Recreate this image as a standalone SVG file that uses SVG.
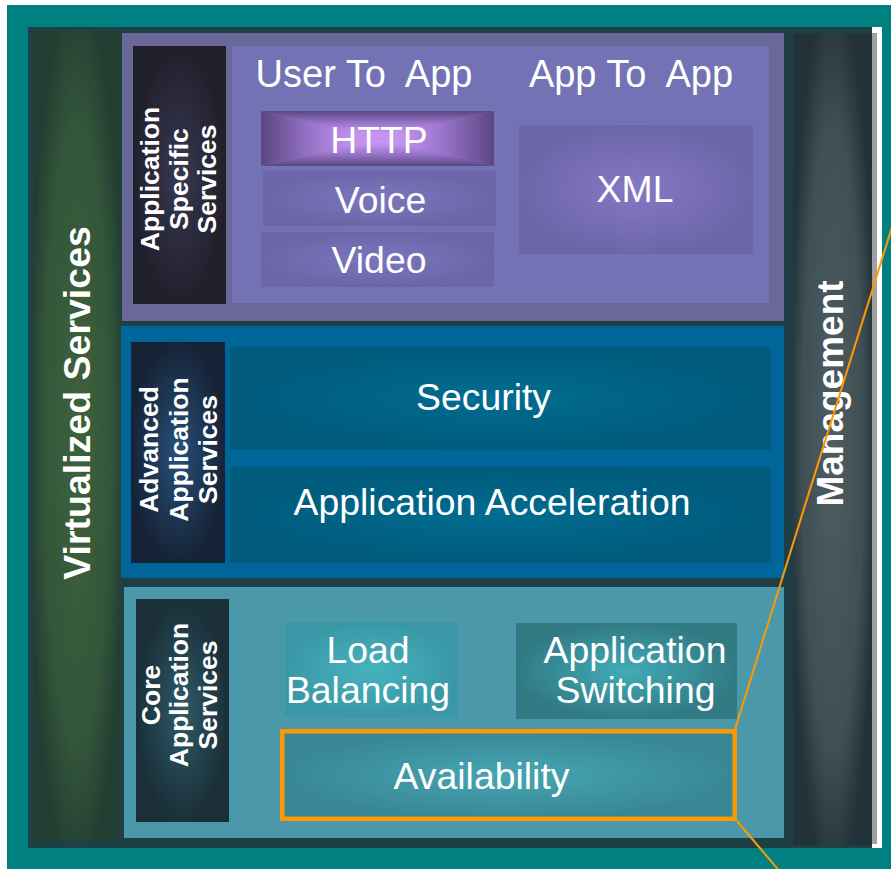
<svg xmlns="http://www.w3.org/2000/svg" width="891" height="869" viewBox="0 0 891 869">
<defs>
  <radialGradient id="gGreen" cx="0.5" cy="0.5" r="0.55">
    <stop offset="0" stop-color="#3e623a"/><stop offset="0.7" stop-color="#33553a"/><stop offset="1" stop-color="#223e32"/>
  </radialGradient>
  <radialGradient id="gMgmt" cx="0.5" cy="0.5" r="0.55">
    <stop offset="0" stop-color="#4d5d61"/><stop offset="0.7" stop-color="#3f4f54"/><stop offset="1" stop-color="#233238"/>
  </radialGradient>
  <radialGradient id="gLblPurple" cx="0.5" cy="0.5" r="0.5">
    <stop offset="0" stop-color="#383852"/><stop offset="1" stop-color="#20202c"/>
  </radialGradient>
  <radialGradient id="gLblBlue" cx="0.5" cy="0.5" r="0.5">
    <stop offset="0" stop-color="#27507a"/><stop offset="1" stop-color="#162337"/>
  </radialGradient>
  <radialGradient id="gLblTeal" cx="0.5" cy="0.5" r="0.5">
    <stop offset="0" stop-color="#2e5a68"/><stop offset="1" stop-color="#1a2f38"/>
  </radialGradient>
  <linearGradient id="hL" gradientUnits="userSpaceOnUse" x1="261" y1="0" x2="377.5" y2="0">
    <stop offset="0" stop-color="#5a4680"/><stop offset="0.45" stop-color="#9a76cc"/><stop offset="0.8" stop-color="#c592f0"/><stop offset="1" stop-color="#c896f4"/>
  </linearGradient>
  <linearGradient id="hR" gradientUnits="userSpaceOnUse" x1="494" y1="0" x2="377.5" y2="0">
    <stop offset="0" stop-color="#5a4680"/><stop offset="0.45" stop-color="#9a76cc"/><stop offset="0.8" stop-color="#c592f0"/><stop offset="1" stop-color="#c896f4"/>
  </linearGradient>
  <linearGradient id="hT" gradientUnits="userSpaceOnUse" x1="0" y1="111" x2="0" y2="138.5">
    <stop offset="0" stop-color="#5a4680"/><stop offset="0.45" stop-color="#9a76cc"/><stop offset="0.8" stop-color="#c592f0"/><stop offset="1" stop-color="#c896f4"/>
  </linearGradient>
  <linearGradient id="hB" gradientUnits="userSpaceOnUse" x1="0" y1="166" x2="0" y2="138.5">
    <stop offset="0" stop-color="#5a4680"/><stop offset="0.45" stop-color="#9a76cc"/><stop offset="0.8" stop-color="#c592f0"/><stop offset="1" stop-color="#c896f4"/>
  </linearGradient>
  <radialGradient id="gVoice" cx="0.5" cy="0.5" r="0.5">
    <stop offset="0" stop-color="#7c75bd"/><stop offset="1" stop-color="#6c66a8"/>
  </radialGradient>
  <radialGradient id="gXml" cx="0.5" cy="0.5" r="0.5">
    <stop offset="0" stop-color="#8677c6"/><stop offset="1" stop-color="#6c66a8"/>
  </radialGradient>
  <radialGradient id="gBlueBox" cx="0.5" cy="0.5" r="0.5">
    <stop offset="0" stop-color="#006d90"/><stop offset="1" stop-color="#005a7c"/>
  </radialGradient>
  <radialGradient id="gLoad" cx="0.5" cy="0.5" r="0.5">
    <stop offset="0" stop-color="#46b2be"/><stop offset="1" stop-color="#3a98a6"/>
  </radialGradient>
  <radialGradient id="gSwitch" cx="0.5" cy="0.5" r="0.5">
    <stop offset="0" stop-color="#41acb8"/><stop offset="1" stop-color="#317a84"/>
  </radialGradient>
  <radialGradient id="gAvail" cx="0.5" cy="0.5" r="0.5">
    <stop offset="0" stop-color="#46a6b4"/><stop offset="1" stop-color="#398794"/>
  </radialGradient>
</defs>
<style>
  text { font-family: "Liberation Sans", Arial, sans-serif; fill: #ffffff; text-anchor: middle; }
  .lbl { font-weight: bold; font-size: 26.5px; }
  .big { font-weight: bold; }
  .r36 { font-size: 37.4px; }
  .hdr { font-size: 38px; }
  .conn { stroke: #ff9900; stroke-width: 2; fill: none; }
</style>

<rect x="0" y="0" width="891" height="869" fill="#ffffff"/>
<rect x="7" y="5" width="884" height="864" fill="#008080"/>
<rect x="28" y="27" width="844" height="821" fill="#1f3f47"/>
<rect x="872" y="27" width="10" height="821" fill="#ffffff"/>
<rect x="872" y="33" width="5" height="811" fill="#a0a0a0"/>

<g id="virtualized-services">
  <rect x="33" y="30" width="88" height="811" fill="url(#gGreen)"/>
  <text class="big" font-size="37.5" transform="translate(90,403) rotate(-90)">Virtualized Services</text>
</g>

<g id="management">
  <rect x="793" y="34" width="79" height="811" fill="url(#gMgmt)"/>
  <text class="big" font-size="37" transform="translate(843,393.5) rotate(-90)">Management</text>
</g>

<g id="application-specific-services">
  <rect x="122" y="33" width="662" height="288" fill="#6a6899"/>
  <rect x="232" y="46" width="537" height="257" fill="#7272b5"/>
  <rect x="133" y="46" width="93" height="258" fill="url(#gLblPurple)"/>
  <text class="lbl" transform="translate(159,179) rotate(-90)"><tspan x="0" y="0">Application</tspan><tspan x="0" dy="28.5">Specific</tspan><tspan x="0" dy="28.5">Services</tspan></text>
  <text class="hdr" x="364" y="87" xml:space="preserve">User To  App</text>
  <text class="hdr" x="631" y="87" xml:space="preserve">App To  App</text>
</g>

<g id="http">
  <rect x="261" y="111" width="233" height="55" fill="#9a76cc"/>
  <polygon points="261,111 377.5,138.5 261,166" fill="url(#hL)"/>
  <polygon points="494,111 377.5,138.5 494,166" fill="url(#hR)"/>
  <polygon points="261,111 494,111 377.5,138.5" fill="url(#hT)"/>
  <polygon points="261,166 494,166 377.5,138.5" fill="url(#hB)"/>
  <text class="r36" x="379" y="153">HTTP</text>
</g>
<g id="voice">
  <rect x="263" y="171" width="233" height="55" fill="url(#gVoice)"/>
  <text class="r36" x="380.5" y="213">Voice</text>
</g>
<g id="video">
  <rect x="261" y="232" width="233" height="55" fill="url(#gVoice)"/>
  <text class="r36" x="379" y="273">Video</text>
</g>
<g id="xml">
  <rect x="519" y="125" width="234" height="129" fill="url(#gXml)"/>
  <text class="r36" x="635" y="202">XML</text>
</g>

<g id="advanced-application-services">
  <rect x="121" y="326" width="663" height="252" fill="#006699"/>
  <rect x="131" y="342" width="94" height="221" fill="url(#gLblBlue)"/>
  <text class="lbl" transform="translate(158,449.5) rotate(-90)"><tspan x="0" y="0">Advanced</tspan><tspan x="0" dy="29.5">Application</tspan><tspan x="0" dy="29">Services</tspan></text>
</g>
<g id="security">
  <rect x="230" y="347" width="541" height="103" fill="url(#gBlueBox)"/>
  <text class="r36" x="483.5" y="410">Security</text>
</g>
<g id="application-acceleration">
  <rect x="230" y="467" width="541" height="96" fill="url(#gBlueBox)"/>
  <text class="r36" x="492" y="515">Application Acceleration</text>
</g>

<g id="core-application-services">
  <rect x="124" y="587" width="660" height="251" fill="#4a98aa"/>
  <rect x="136" y="599" width="93" height="223" fill="url(#gLblTeal)"/>
  <text class="lbl" transform="translate(160,695) rotate(-90)"><tspan x="0" y="0">Core</tspan><tspan x="0" dy="28">Application</tspan><tspan x="0" dy="28.5">Services</tspan></text>
</g>
<g id="load-balancing">
  <rect x="285" y="622" width="173" height="95" fill="url(#gLoad)"/>
  <text class="r36" x="368" y="663">Load</text>
  <text class="r36" x="368" y="703">Balancing</text>
</g>
<g id="application-switching">
  <rect x="516" y="623" width="221" height="96" fill="url(#gSwitch)"/>
  <text class="r36" x="635" y="663">Application</text>
  <text class="r36" x="635.5" y="703">Switching</text>
</g>
<g id="availability">
  <rect x="282.3" y="731.3" width="452.4" height="87.5" fill="url(#gAvail)" stroke="#ff9900" stroke-width="4.5"/>
  <text class="r36" x="481.5" y="789">Availability</text>
</g>

<g id="connectors">
  <line class="conn" x1="734.5" y1="731" x2="892" y2="227"/>
  <line class="conn" x1="737" y1="821" x2="778.5" y2="870"/>
</g>
</svg>
